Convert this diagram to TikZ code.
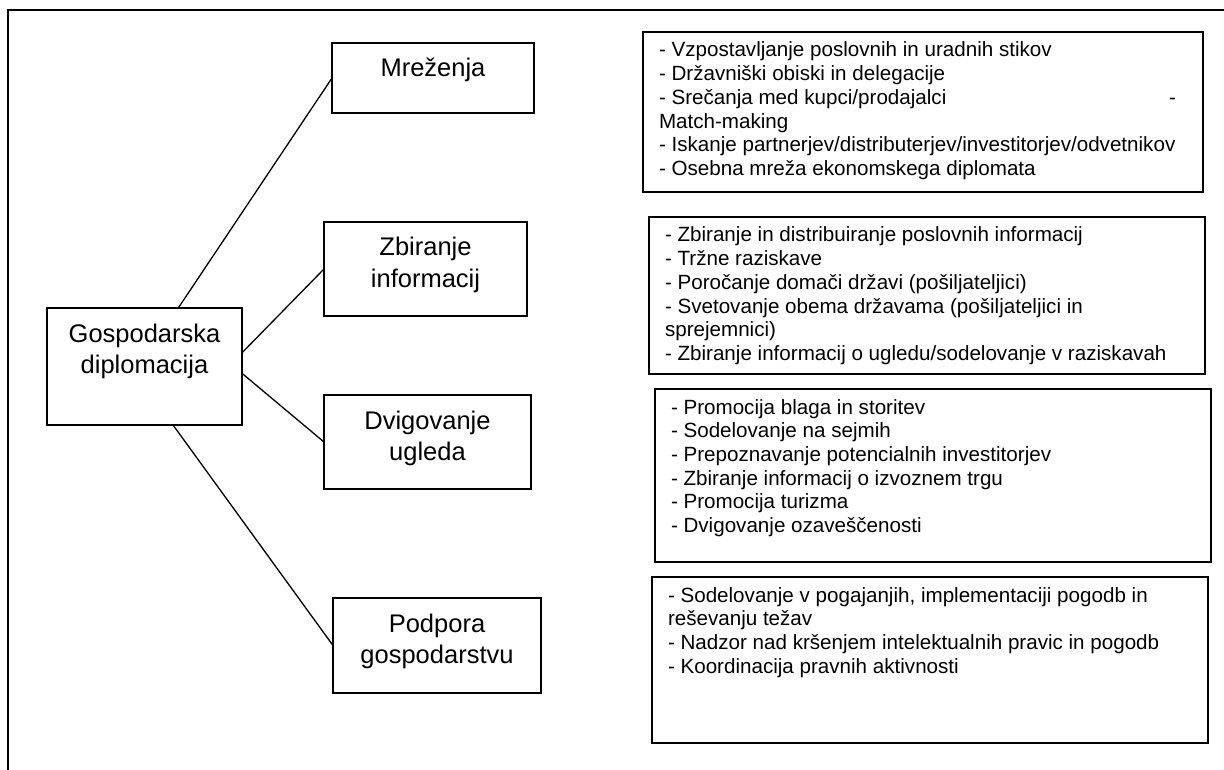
\documentclass[tikz,border=0pt]{standalone}
\usepackage{fontspec}
\setmainfont{Liberation Sans}
% centred heading text inside a fixed-size box: width, height, text
\newcommand{\headbox}[3]{\parbox[t][#2][t]{#1}{\centering\rule{0pt}{34pt}#3}}
% left-aligned list text inside a fixed-size box: width, height, text
\newcommand{\listbox}[3]{\parbox[t][#2][t]{#1}{\parindent=0pt\leftskip=16pt\rightskip=27pt plus 1fil\rule{0pt}{25pt}#3}}
\begin{document}
\begin{tikzpicture}[x=1pt,y=-1pt,
  boxline/.style={draw=black, line width=1.3pt, inner sep=0pt, outer sep=0pt, anchor=north west},
  headtext/.style={font=\fontsize{25.5}{31.5}\selectfont},
  listtext/.style={font=\fontsize{20.6}{23.7}\selectfont},
  conn/.style={draw=black, line width=1.3pt}]
\useasboundingbox (0,0) rectangle (1224,770);
% page frame (top and left edges)
\draw[line width=2pt] (8,770) -- (8,10) -- (1224,10);

% central node
\node[boxline, headtext] (gd) at (47,308) {\headbox{195pt}{117pt}{Gospodarska\\diplomacija}};

% the four fields
\node[boxline, headtext] (mr) at (332,43)  {\headbox{202pt}{70pt}{Mreženja}};
\node[boxline, headtext] (zb) at (324,222) {\headbox{203pt}{94pt}{Zbiranje\\informacij}};
\node[boxline, headtext] (dv) at (324,395) {\headbox{207pt}{94pt}{Dvigovanje\\ugleda}};
\node[boxline, headtext] (pp) at (333,598) {\headbox{208pt}{95pt}{Podpora\\gospodarstvu}};

% activity lists
\node[boxline, listtext] (l1) at (643,32) {\listbox{560pt}{160pt}{%
- Vzpostavljanje poslovnih in uradnih stikov\\
- Državniški obiski in delegacije\\
- Srečanja med kupci/prodajalci\hfill -\\
Match-making\\
- Iskanje partnerjev/distributerjev/investitorjev/odvetnikov\\
- Osebna mreža ekonomskega diplomata}};
\node[boxline, listtext] (l2) at (649,217) {\listbox{556pt}{157pt}{%
- Zbiranje in distribuiranje poslovnih informacij\\
- Tržne raziskave\\
- Poročanje domači državi (pošiljateljici)\\
- Svetovanje obema državama (pošiljateljici in\\
sprejemnici)\\
- Zbiranje informacij o ugledu/sodelovanje v raziskavah}};
\node[boxline, listtext] (l3) at (655,389) {\listbox{556pt}{173pt}{%
- Promocija blaga in storitev\\
- Sodelovanje na sejmih\\
- Prepoznavanje potencialnih investitorjev\\
- Zbiranje informacij o izvoznem trgu\\
- Promocija turizma\\
- Dvigovanje ozaveščenosti}};
\node[boxline, listtext] (l4) at (652,577) {\listbox{556pt}{166pt}{%
- Sodelovanje v pogajanjih, implementaciji pogodb in\\
reševanju težav\\
- Nadzor nad kršenjem intelektualnih pravic in pogodb\\
- Koordinacija pravnih aktivnosti}};

% connectors from the central node
\draw[conn] (gd.60) -- (mr.west);
\draw[conn] (gd.8) -- (zb.west);
\draw[conn] (gd.-4) -- (dv.west);
\draw[conn] (gd.-64) -- (pp.west);
\end{tikzpicture}
\end{document}
